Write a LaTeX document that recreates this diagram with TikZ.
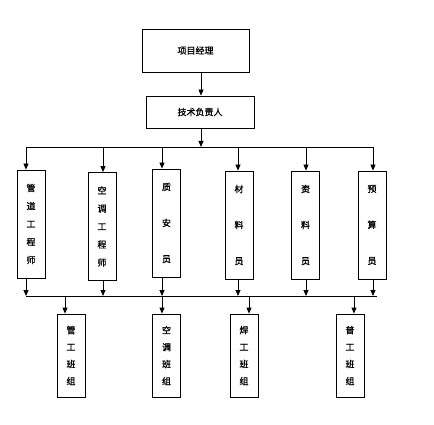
\documentclass[tikz,border=0pt]{standalone}
\usepackage{fontspec}
\newfontfamily\cjk[FakeBold=1.2]{Noto Sans CJK SC}
\usetikzlibrary{arrows.meta}
\begin{document}
\begin{tikzpicture}[x=1pt,y=-1pt,
    box/.style={draw, line width=0.8pt, inner sep=0pt, font=\cjk\fontsize{9}{10}\selectfont},
    post/.style={box, minimum width=28pt, minimum height=108pt, align=center},
    many/.style={font=\cjk\fontsize{9}{18}\selectfont},
    few/.style={font=\cjk\fontsize{9}{36}\selectfont},
    team/.style={box, minimum width=28pt, minimum height=83pt, align=center, font=\cjk\fontsize{9}{17}\selectfont},
    flow/.style={-{Triangle[length=6pt,width=5pt]}, line width=0.8pt}]
    \useasboundingbox[fill=white] (0,0) rectangle (434,425);

    % ---- Management ----
    \node[box, minimum width=107pt, minimum height=43pt] (pm) at (195.5,50.5) {项目经理};
    \node[box, minimum width=108pt, minimum height=32pt] (tech) at (200,112) {技术负责人};
    \draw[flow] (pm.south -| 201,0) -- (tech.north -| 201,0);

    % ---- Upper bus ----
    \coordinate (busL) at (26,147);
    \coordinate (busR) at (373,147);
    \draw[line width=0.8pt] (busL) -- (busR);
    \draw[flow] (tech.south -| 201,0) -- (201,147);

    % ---- Staff ----
    \node[post, many] (p1) at (31,224)    {管\\道\\工\\程\\师};
    \node[post, many] (p2) at (102,226.5) {空\\调\\工\\程\\师};
    \node[post, few]  (p3) at (166.5,223) {质\\安\\员};
    \node[post, few]  (p4) at (239,225)   {材\\料\\员};
    \node[post, few]  (p5) at (305.5,225) {资\\料\\员};
    \node[post, few]  (p6) at (372,225)   {预\\算\\员};

    % ---- Lower bus ----
    \coordinate (lowL) at (26,296);
    \coordinate (lowR) at (377,296);
    \draw[line width=0.8pt] (lowL) -- (lowR);

    % Arrows into and out of the staff boxes
    \foreach \n/\x in {p1/26, p2/103, p3/162, p4/238, p5/306, p6/373} {
        \draw[flow] (\x,147) -- (\n.north -| \x,0);
        \draw[flow] (\n.south -| \x,0) -- (\x,296);
    }

    % ---- Teams ----
    \node[team] (t1) at (71,355.5)    {管\\工\\班\\组};
    \node[team] (t2) at (166.5,355.5) {空\\调\\班\\组};
    \node[team] (t3) at (244,355.5)   {焊\\工\\班\\组};
    \node[team] (t4) at (350,355.5)   {普\\工\\班\\组};

    \foreach \n/\x in {t1/65, t2/162, t3/249, t4/354}
        \draw[flow] (\x,296) -- (\n.north -| \x,0);
\end{tikzpicture}
\end{document}
